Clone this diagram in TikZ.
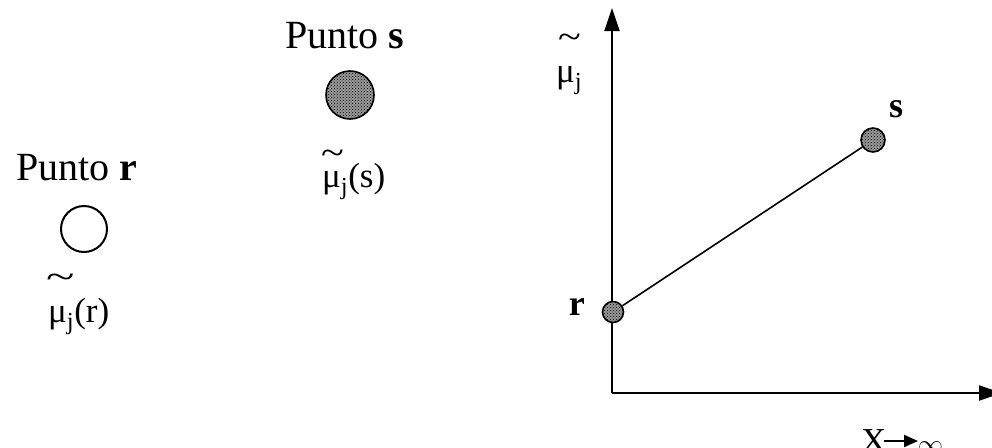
\documentclass[tikz,border=0pt]{standalone}
\usepackage{fontspec}
\setmainfont{Liberation Serif}
\usetikzlibrary{arrows.meta,patterns}
\begin{document}
\begin{tikzpicture}[x=1pt,y=-1pt,
  lbl/.style={inner sep=0pt, font=\fontsize{40}{44}\selectfont},
  mlbl/.style={inner sep=0pt, font=\fontsize{35}{38}\selectfont},
  tld/.style={inner sep=0pt, font=\fontsize{35}{38}\selectfont},
  dotfill/.style={circle, draw=black, line width=1.6pt, preaction={fill=black!40}, pattern=crosshatch dots, inner sep=0pt},
  axis/.style={line width=2pt, -{Triangle[length=23pt,width=15pt]}}]
\useasboundingbox (0,0) rectangle (992,447);
% left side: point s
\node[lbl, anchor=base] (ps) at (345,48) {Punto \textbf{s}};
\node[dotfill, minimum size=48pt] (cs) at (350,95) {};
\node[tld, anchor=base west] (ts) at (321,164) {\scalebox{1.2}[1]{\textasciitilde}};
\node[mlbl, anchor=base west] (ms) at (322,187) {μ\textsubscript{j}(s)};
% left side: point r
\node[lbl, anchor=base] (pr) at (77,180) {Punto \textbf{r}};
\node[circle, draw=black, line width=2pt, fill=white, minimum size=46pt, inner sep=0pt] (cr) at (84,229) {};
\node[tld, anchor=base west] (tr) at (46,288) {\scalebox{1.5}[1]{\textasciitilde}};
\node[mlbl, anchor=base west] (mr) at (48,322) {μ\textsubscript{j}(r)};
% graph
\coordinate (O) at (612,393);
\coordinate (ytip) at (612,8);
\coordinate (xtip) at (1002,393);
\draw[axis] (O) -- (ytip);
\draw[axis] (O) -- (xtip);
\node[tld, anchor=base west] (ty) at (558,48) {\scalebox{1.2}[1]{\textasciitilde}};
\node[mlbl, anchor=base west] (my) at (556,82) {μ\textsubscript{j}};
\node[dotfill, minimum size=21pt] (gr) at (613,312) {};
\node[dotfill, minimum size=24pt] (gs) at (873,140) {};
\draw[line width=1.6pt] (gr) -- (gs);
\node[mlbl, anchor=base east, font=\fontsize{36}{38}\selectfont\bfseries] (lr) at (585,315) {r};
\node[mlbl, anchor=base west, font=\fontsize{36}{38}\selectfont\bfseries] (ls) at (889,117) {s};
% bottom label
\node[mlbl, anchor=base west] (lx) at (861,452) {X};
\coordinate (a1) at (884,441);
\coordinate (a2) at (918,441);
\draw[line width=2pt, -{Triangle[length=14pt,width=12pt]}] (a1) -- (a2);
\node[mlbl, anchor=base west, font=\fontsize{40}{40}\selectfont] (linf) at (918,452) {$\infty$};
\end{tikzpicture}
\end{document}
